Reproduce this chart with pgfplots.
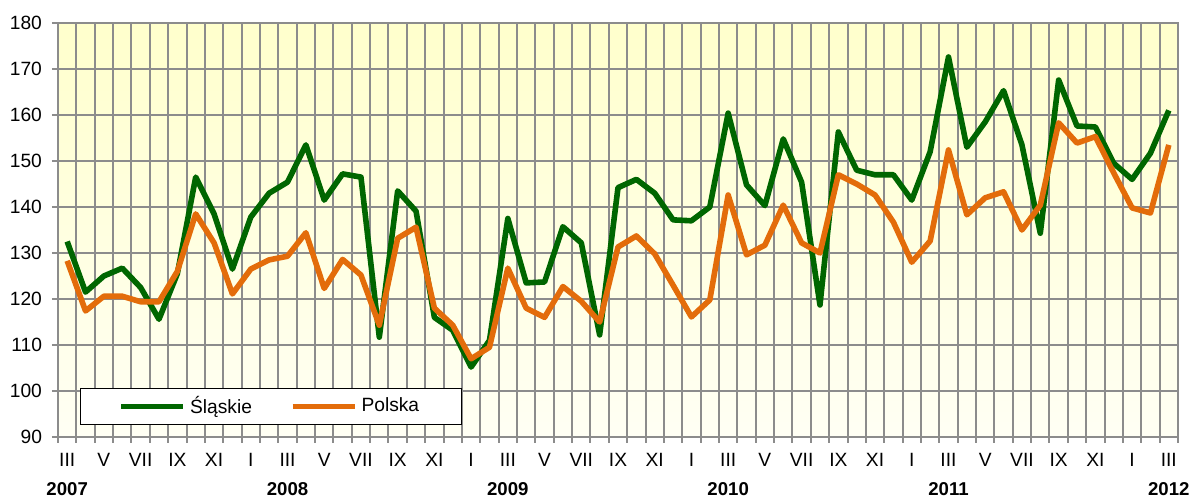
\documentclass[border=0pt]{standalone}
\usepackage{pgfplots}
\pgfplotsset{compat=1.18}
\usepackage{pgfplotstable}
\usepackage{fontspec}
\setmainfont{Liberation Sans}
\usetikzlibrary{calc}
\definecolor{sgreen}{RGB}{0,102,0}
\definecolor{porange}{RGB}{227,108,10}
\definecolor{gridgray}{RGB}{140,140,140}
\definecolor{bgtop}{RGB}{255,255,204}
\definecolor{bgbot}{RGB}{255,255,244}
\pgfplotstableread{
x s p
0 132.5 128.3
1 121.5 117.4
2 125.0 120.6
3 126.7 120.6
4 122.5 119.4
5 115.6 119.4
6 125.5 126.0
7 146.5 138.5
8 138.5 132.2
9 126.5 121.1
10 137.8 126.5
11 143.0 128.5
12 145.4 129.3
13 153.5 134.4
14 141.5 122.3
15 147.2 128.6
16 146.5 125.2
17 111.7 114.3
18 143.5 133.2
19 139.1 135.6
20 116.0 118.0
21 113.2 114.3
22 105.2 107.0
23 111.0 109.5
24 137.5 126.7
25 123.5 118.0
26 123.7 116.0
27 135.7 122.7
28 132.2 119.5
29 112.2 115.0
30 144.2 131.3
31 146.0 133.7
32 143.0 129.8
33 137.2 123.0
34 137.0 116.1
35 140.0 119.8
36 160.4 142.6
37 144.8 129.6
38 140.3 131.7
39 154.8 140.4
40 145.4 132.2
41 118.7 130.0
42 156.3 147.0
43 148.0 145.0
44 147.0 142.6
45 147.0 136.7
46 141.5 128.0
47 152.0 132.6
48 172.6 152.4
49 153.0 138.3
50 158.5 142.0
51 165.3 143.3
52 153.5 135.0
53 134.3 140.4
54 167.6 158.3
55 157.6 153.9
56 157.4 155.3
57 149.5 147.4
58 146.0 139.8
59 151.7 138.7
60 161.0 153.5
}\data
\begin{document}
\begin{tikzpicture}
\begin{axis}[name=A, scale only axis, width=560pt, height=207pt,
  xmin=-0.5, xmax=60.5, ymin=90, ymax=180,
  ytick={90,100,...,180},
  xtick={-0.5,0.5,...,60.5}, xticklabels={},
  extra x ticks={0,2,...,60},
  extra x tick labels={III,V,VII,IX,XI,I,III,V,VII,IX,XI,I,III,V,VII,IX,XI,I,III,V,VII,IX,XI,I,III,V,VII,IX,XI,I,III},
  extra x tick style={major tick length=0pt, grid=none},
  tick pos=left,
  grid=major, major grid style={gridgray, line width=1pt},
  axis line style={gridgray, line width=1pt},
  tick style={gridgray, line width=1pt},
  tick align=outside, major tick length=3pt,
  axis background/.style={shade, top color=bgtop, middle color=bgtop, bottom color=bgbot},
  ticklabel style={font=\fontsize{9.6}{11}\selectfont, text=black},
  yticklabel style={xshift=-1.5pt},
  xticklabel style={yshift=-4.5pt},
  /pgf/number format/assume math mode=true,
  clip=false,
  legend columns=2,
  legend image code/.code={\path (0pt,0pt) -- (31pt,0pt);\draw[#1] (0pt,0pt) -- (26.5pt,0pt);},
  legend style={at={(rel axis cs:0.0196,0.029)}, anchor=south west, draw=black, line width=0.5pt, fill=white,
    font=\fontsize{9.6}{11}\selectfont, inner xsep=19pt, inner ysep=2pt,
    /tikz/every even column/.append style={column sep=17pt}},
]
\addplot[sgreen, line width=2.8pt, line join=round] table[x=x, y=s] {\data};
\addlegendentry{Śląskie}
\addplot[porange, line width=2.8pt, line join=round] table[x=x, y=p] {\data};
\addlegendentry{Polska}
\node[font=\fontsize{9.3}{11}\selectfont\bfseries] at (axis cs:0,90) [yshift=-26pt] {2007};
\node[font=\fontsize{9.3}{11}\selectfont\bfseries] at (axis cs:12,90) [yshift=-26pt] {2008};
\node[font=\fontsize{9.3}{11}\selectfont\bfseries] at (axis cs:24,90) [yshift=-26pt] {2009};
\node[font=\fontsize{9.3}{11}\selectfont\bfseries] at (axis cs:36,90) [yshift=-26pt] {2010};
\node[font=\fontsize{9.3}{11}\selectfont\bfseries] at (axis cs:48,90) [yshift=-26pt] {2011};
\node[font=\fontsize{9.3}{11}\selectfont\bfseries] at (axis cs:60,90) [yshift=-26pt] {2012};
\end{axis}
\pgfresetboundingbox
\path[use as bounding box] ($(A.south west)+(-29pt,-31pt)$) rectangle ($(A.north east)+(5.5pt,11.5pt)$);
\end{tikzpicture}
\end{document}
